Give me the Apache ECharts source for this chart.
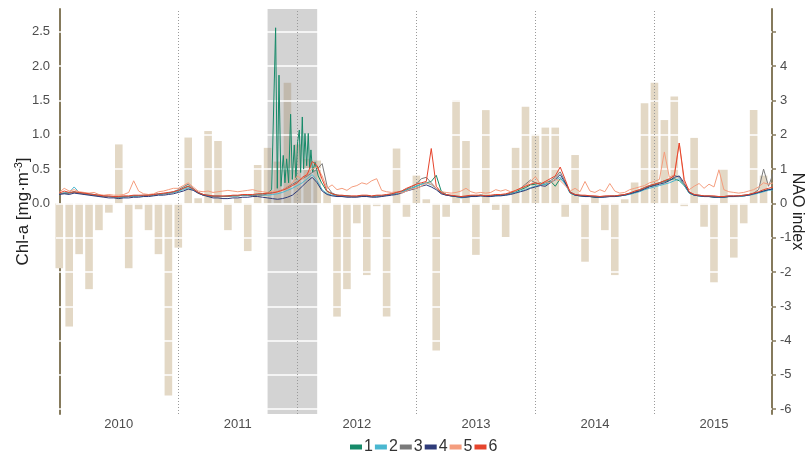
<!DOCTYPE html>
<html><head><meta charset="utf-8">
<script src="https://cdn.jsdelivr.net/npm/echarts@6/dist/echarts.min.js"></script>
<style>html,body{margin:0;padding:0;background:#fff}#c{width:806px;height:454px}</style>
</head><body><div id="c"></div>
<script>
// ---------- DATA ----------
const years = ['2010','2011','2012','2013','2014','2015'];
const yearCenters = [6,18,30,42,54,66];      // months since Jan 2010
const yearStarts = [12,24,36,48,60];
const shadeStart = 21, shadeEnd = 26;
const chlTicks = [0,0.5,1,1.5,2,2.5];
const naoTicks = [-6,-5,-4,-3,-2,-1,0,1,2,3,4,5];
const naoLabels = [-6,-5,-4,-3,-2,-1,0,1,2,3,4];

// monthly NAO index (bar centred at month start, months since Jan 2010)
const nao = [
 -1.89,-3.59,-1.48,-2.50,-0.78,-0.27, 1.72,-1.89,-0.17,-0.78,-1.48,-5.60,
 -1.29, 1.92, 0.15, 2.11, 1.82,-0.78, 0.15,-1.39, 1.12, 1.62, 1.22, 3.52,
  1.72, 1.30, 1.25, 0.34,-3.30,-2.50,-0.58,-2.09,-0.08,-3.30, 1.60,-0.39,
  0.81, 0.12,-4.29,-0.39, 3.01, 1.82,-1.50, 2.72,-0.19,-0.98, 1.62, 2.82,
  2.01, 2.21, 2.21,-0.39, 1.41,-1.70, 0.22,-0.78,-2.09, 0.12, 0.61, 2.92,
  3.52, 2.43, 3.12,-0.08, 1.91,-0.68,-2.30, 1.00,-1.58,-0.58, 2.72, 0.81
];

// Chl-a, half-month samples (t = 0, 0.5, ... 72 months)
const s2 = [
 0.14,0.15,0.16,0.24,0.16,0.15,0.14,0.13,0.12,0.11,0.10,0.10,0.09,0.09,0.10,0.10,0.11,0.11,0.12,0.13,0.13,0.14,0.15,0.16,
 0.18,0.20,0.23,0.20,0.16,0.13,0.12,0.11,0.11,0.10,0.10,0.11,0.11,0.12,0.12,0.12,0.13,0.12,0.12,0.13,0.14,0.16,0.19,0.22,
 0.26,0.30,0.36,0.42,0.33,0.20,0.14,0.12,0.11,0.11,0.10,0.10,0.10,0.11,0.11,0.10,0.10,0.11,0.12,0.13,0.15,0.17,0.19,0.22,
 0.25,0.28,0.30,0.27,0.22,0.16,0.13,0.11,0.10,0.08,0.09,0.10,0.11,0.11,0.11,0.10,0.11,0.12,0.12,0.14,0.16,0.18,0.20,0.23,
 0.25,0.27,0.28,0.31,0.34,0.38,0.28,0.15,0.12,0.11,0.11,0.10,0.10,0.09,0.10,0.10,0.11,0.11,0.12,0.13,0.15,0.17,0.20,0.22,
 0.24,0.26,0.28,0.30,0.33,0.36,0.27,0.15,0.12,0.11,0.10,0.10,0.10,0.09,0.09,0.10,0.10,0.10,0.11,0.12,0.13,0.15,0.17,0.19,
 0.20];
const s3 = [
 0.14,0.15,0.15,0.16,0.15,0.14,0.13,0.12,0.11,0.10,0.10,0.09,0.09,0.10,0.10,0.11,0.11,0.12,0.12,0.13,0.14,0.14,0.15,0.17,
 0.20,0.24,0.28,0.22,0.16,0.13,0.11,0.10,0.10,0.10,0.10,0.11,0.11,0.12,0.12,0.11,0.12,0.12,0.14,0.16,0.17,0.20,0.24,0.28,
 0.32,0.36,0.40,0.45,0.50,0.58,0.25,0.15,0.12,0.11,0.11,0.10,0.10,0.11,0.11,0.10,0.11,0.11,0.12,0.14,0.16,0.18,0.21,0.24,
 0.28,0.36,0.38,0.30,0.22,0.15,0.12,0.11,0.10,0.10,0.10,0.11,0.11,0.12,0.11,0.11,0.12,0.12,0.13,0.15,0.18,0.22,0.28,0.34,
 0.30,0.28,0.30,0.33,0.38,0.46,0.32,0.17,0.13,0.12,0.11,0.11,0.10,0.10,0.10,0.11,0.11,0.12,0.13,0.15,0.17,0.20,0.23,0.26,
 0.28,0.30,0.33,0.35,0.41,0.38,0.28,0.16,0.13,0.12,0.11,0.11,0.10,0.10,0.10,0.11,0.11,0.11,0.12,0.13,0.15,0.20,0.50,0.25,
 0.45];
const s4 = [
 0.13,0.14,0.13,0.15,0.14,0.13,0.12,0.11,0.10,0.09,0.08,0.08,0.07,0.08,0.08,0.09,0.09,0.10,0.10,0.11,0.12,0.12,0.13,0.14,
 0.16,0.18,0.21,0.19,0.15,0.12,0.10,0.08,0.08,0.07,0.07,0.08,0.08,0.09,0.09,0.10,0.10,0.09,0.08,0.07,0.06,0.07,0.09,0.12,
 0.18,0.25,0.32,0.38,0.30,0.18,0.13,0.11,0.10,0.10,0.09,0.09,0.09,0.10,0.10,0.09,0.09,0.10,0.11,0.12,0.13,0.15,0.18,0.20,
 0.22,0.25,0.27,0.24,0.20,0.14,0.12,0.11,0.10,0.09,0.09,0.10,0.10,0.11,0.10,0.10,0.11,0.11,0.12,0.13,0.15,0.17,0.19,0.22,
 0.24,0.26,0.25,0.30,0.35,0.42,0.30,0.16,0.12,0.11,0.10,0.10,0.09,0.09,0.09,0.10,0.10,0.11,0.12,0.14,0.16,0.18,0.21,0.24,
 0.26,0.28,0.30,0.33,0.38,0.40,0.30,0.16,0.12,0.11,0.10,0.10,0.09,0.09,0.09,0.10,0.10,0.11,0.11,0.12,0.14,0.16,0.18,0.20,
 0.21];
const s5 = [
 0.16,0.22,0.18,0.20,0.17,0.16,0.15,0.16,0.13,0.12,0.13,0.12,0.12,0.13,0.16,0.33,0.18,0.14,0.13,0.14,0.17,0.18,0.20,0.22,
 0.22,0.26,0.30,0.24,0.18,0.17,0.18,0.16,0.17,0.18,0.19,0.18,0.17,0.18,0.19,0.20,0.18,0.17,0.16,0.18,0.17,0.20,0.25,0.30,
 0.40,0.35,0.45,0.50,0.53,0.40,0.22,0.27,0.20,0.22,0.19,0.24,0.26,0.30,0.28,0.33,0.36,0.19,0.17,0.16,0.17,0.15,0.18,0.21,
 0.22,0.25,0.30,0.28,0.22,0.17,0.16,0.15,0.16,0.18,0.22,0.17,0.15,0.16,0.15,0.16,0.20,0.18,0.20,0.17,0.18,0.22,0.26,0.32,
 0.39,0.28,0.32,0.30,0.35,0.33,0.26,0.18,0.22,0.17,0.32,0.18,0.16,0.20,0.17,0.29,0.18,0.15,0.16,0.20,0.22,0.24,0.26,0.30,
 0.32,0.35,0.75,0.38,0.42,0.88,0.30,0.20,0.25,0.29,0.22,0.28,0.24,0.49,0.20,0.17,0.16,0.15,0.16,0.18,0.20,0.24,0.30,0.28,
 0.30];
const s6 = [
 0.15,0.18,0.16,0.17,0.16,0.15,0.14,0.13,0.12,0.11,0.11,0.10,0.10,0.11,0.11,0.12,0.12,0.12,0.12,0.13,0.14,0.15,0.16,0.17,
 0.19,0.22,0.25,0.21,0.16,0.13,0.12,0.11,0.11,0.11,0.11,0.12,0.12,0.13,0.13,0.13,0.14,0.14,0.15,0.15,0.17,0.19,0.22,0.26,
 0.30,0.38,0.42,0.61,0.55,0.35,0.18,0.14,0.12,0.12,0.11,0.11,0.11,0.12,0.12,0.11,0.12,0.12,0.13,0.14,0.16,0.18,0.22,0.25,
 0.28,0.30,0.32,0.80,0.25,0.16,0.13,0.12,0.11,0.10,0.11,0.12,0.12,0.12,0.11,0.12,0.13,0.13,0.14,0.16,0.19,0.22,0.25,0.28,
 0.30,0.28,0.32,0.36,0.40,0.53,0.35,0.16,0.13,0.12,0.12,0.11,0.11,0.10,0.11,0.11,0.11,0.12,0.13,0.15,0.18,0.20,0.23,0.26,
 0.28,0.30,0.33,0.36,0.40,0.88,0.35,0.17,0.13,0.12,0.11,0.11,0.11,0.10,0.10,0.11,0.11,0.11,0.12,0.13,0.15,0.17,0.20,0.22,
 0.24];

// series 1 (green): half-month samples plus denser sampling through the 2011/12 bloom
const bloomT = [21.0,21.41,21.81,21.98,22.15,22.35,22.58,22.75,22.92,23.12,23.32,23.49,23.69,23.86,24.03,24.2,24.33,24.5,24.63,24.77,24.94,25.1,25.24,25.37,25.54,25.78,26.1,26.45,26.95];
const s1 = [
 0.14,0.15,0.15,0.17,0.15,0.14,0.13,0.12,0.11,0.10,0.10,0.10,0.09,0.10,0.10,0.11,0.11,0.11,0.12,0.12,0.13,0.14,0.15,0.16,
 0.18,0.22,0.25,0.20,0.15,0.12,0.11,0.10,0.10,0.10,0.11,0.11,0.11,0.12,0.12,0.12,0.13,0.14,
 0.15,0.20,2.56,0.22,1.87,0.25,0.70,0.30,0.65,0.30,1.30,0.35,0.85,0.35,0.90,1.07,0.45,1.26,0.50,1.02,0.55,1.02,0.50,0.78,0.45,0.60,0.40,0.30,0.18,
 0.14,0.12,0.11,0.11,0.10,0.10,0.11,0.11,0.10,0.11,0.11,0.12,0.13,0.15,0.17,0.20,0.22,
 0.25,0.28,0.30,0.32,0.41,0.18,0.13,0.11,0.10,0.09,0.10,0.11,0.11,0.12,0.11,0.11,0.12,0.12,0.13,0.15,0.17,0.20,0.23,0.27,
 0.28,0.30,0.27,0.33,0.25,0.36,0.30,0.15,0.12,0.11,0.10,0.10,0.09,0.09,0.10,0.10,0.10,0.11,0.12,0.14,0.16,0.19,0.22,0.25,
 0.27,0.30,0.32,0.34,0.36,0.33,0.26,0.15,0.12,0.11,0.10,0.10,0.09,0.09,0.09,0.10,0.10,0.10,0.11,0.12,0.14,0.16,0.18,0.20,
 0.21];

const seriesNames = ['1','2','3','4','5','6'];
const seriesColors = ['#168a69','#4ab7d0','#7a7a7a','#2f3b79','#f49d7e','#e6442c'];

// ---------- BUILD ----------
const halfSteps = (a,b) => { const r=[]; for (let t=a; t<=b+1e-9; t+=0.5) r.push(t); return r; };
const tGrid = halfSteps(0,72);
const tGreen = [...halfSteps(0,20.5), ...bloomT, ...halfSteps(27.5,72)];
const zip = (ts, vs) => ts.map((t,i)=>[t, vs[i]]);
const lineSets = [zip(tGreen,s1), zip(tGrid,s2), zip(tGrid,s3), zip(tGrid,s4), zip(tGrid,s5), zip(tGrid,s6)];

const FONT = '"Liberation Sans", Arial, sans-serif';
const AX = '#857a5c';
const LBL = '#4d4d4d';

const chart = echarts.init(document.getElementById('c'), null, {renderer:'canvas'});
const option = {
  animation: false,
  textStyle: {fontFamily: FONT},
  grid: {left: 56, right: 34, top: 9, bottom: 40, containLabel: false, outerBoundsMode: 'none'},
  legend: {
    data: seriesNames, left: 345, top: 434, icon: 'rect',
    itemWidth: 12, itemHeight: 5, itemGap: 2,
    textStyle: {fontSize: 16, color: '#333', padding: [0,0,0,-3], fontFamily: FONT}
  },
  xAxis: {
    type: 'value', min: -0.33, max: 71.85,
    axisLine: {show: false}, axisTick: {show: false}, splitLine: {show: false},
    axisLabel: {customValues: yearCenters, formatter: v => years[Math.round((v-6)/12)],
      fontSize: 13, color: LBL, margin: 4}
  },
  yAxis: [
    {
      type: 'value', position: 'left', min: -3.07, max: 2.834,
      axisLine: {show: true, lineStyle: {color: AX, width: 2}},
      axisTick: {show: false}, splitLine: {show: false},
      axisLabel: {customValues: chlTicks, formatter: v => v.toFixed(1), fontSize: 13, color: LBL, margin: 6},
      name: 'Chl-a [mg·m{sup|-3}]', nameLocation: 'middle', nameRotate: 90, nameGap: 23,
      nameMoveOverlap: false,
      nameTextStyle: {fontSize: 17, color: '#222', lineHeight: 20,
        rich: {sup: {fontSize: 11, color: '#222', verticalAlign: 'top', lineHeight: 12}}}
    },
    {
      type: 'value', position: 'right', min: -6.14, max: 5.668,
      axisLine: {show: true, lineStyle: {color: AX, width: 2}},
      axisTick: {show: true, customValues: naoTicks, length: 4, lineStyle: {color: AX, width: 1.5}},
      splitLine: {show: false},
      axisLabel: {customValues: naoLabels, fontSize: 13, color: LBL, margin: 8},
      name: 'NAO index', nameLocation: 'middle', nameRotate: -90, nameGap: 17,
      nameMoveOverlap: false,
      nameTextStyle: {fontSize: 16, color: '#222'}
    }
  ],
  series: [
    {
      type: 'bar', name: 'NAO', yAxisIndex: 1, z: 1, silent: true,
      data: nao.map((v,i)=>[i, v]), barWidth: 7.6,
      itemStyle: {color: '#e3d8c5'},
      markArea: {silent: true, z: 2, itemStyle: {color: 'rgba(128,128,128,0.35)'},
        data: [[{xAxis: shadeStart}, {xAxis: shadeEnd}]]},
      markLine: {silent: true, z: 3, symbol: ['none','none'], label: {show: false},
        data: [
          ...naoTicks.map(v => ({yAxis: v, lineStyle: {color: '#ffffff', width: 1.5, type: 'solid'}})),
          ...yearStarts.map(v => ({xAxis: v, lineStyle: {color: '#9a9a9a', width: 1, type: [1,2]}}))
        ]}
    },
    ...lineSets.map((d,i) => ({
      type: 'line', name: seriesNames[i], data: d, z: 5 + i, silent: true,
      symbol: 'none', showSymbol: false,
      lineStyle: {width: 1, color: seriesColors[i]},
      itemStyle: {color: seriesColors[i]}
    }))
  ]
};
chart.setOption(option);
</script>
</body></html>
